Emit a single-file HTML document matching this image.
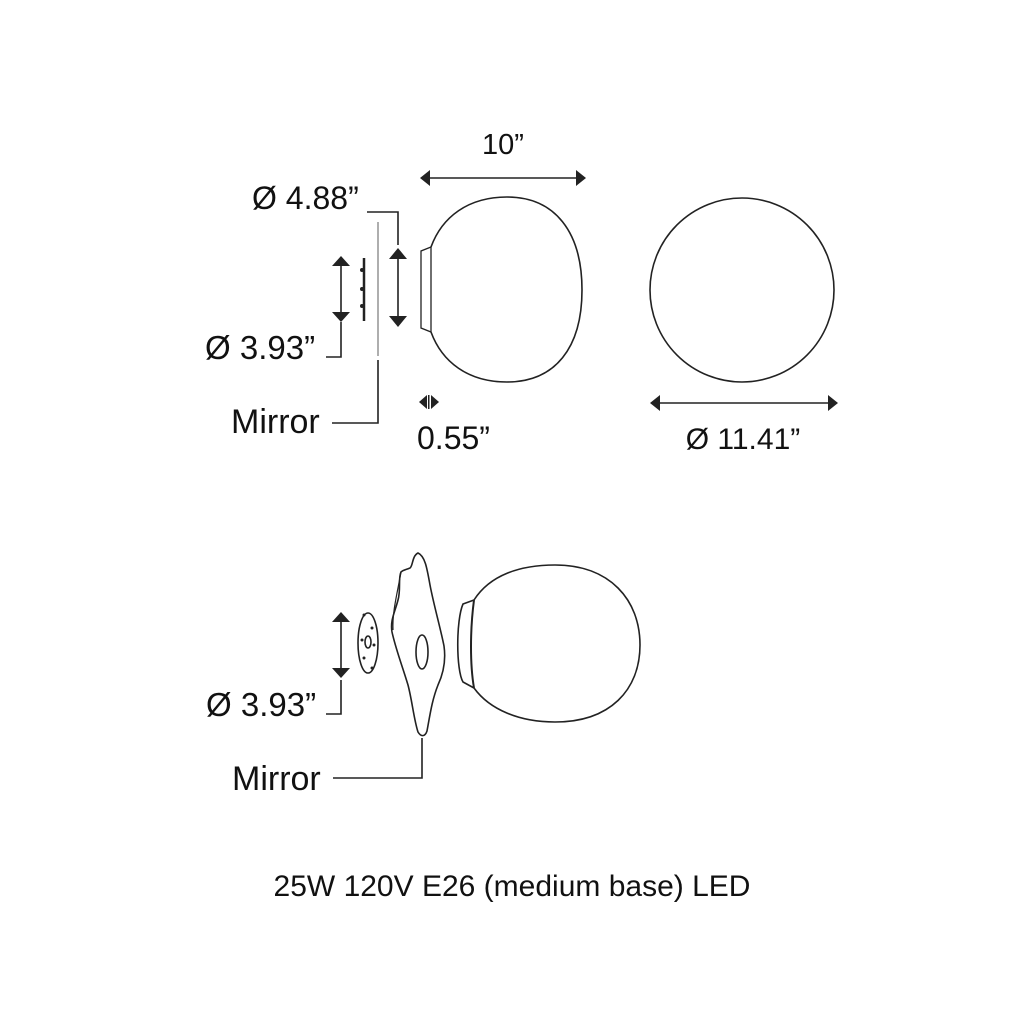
<!DOCTYPE html>
<html><head><meta charset="utf-8"><style>
html,body{margin:0;padding:0;background:#fff;}
svg{display:block}
text{font-family:"Liberation Sans",sans-serif;fill:#111}
</style></head><body>
<svg width="1024" height="1023" viewBox="0 0 1024 1023" xmlns="http://www.w3.org/2000/svg">
<g fill="none" stroke="#222" stroke-width="1.6">
<!-- top globe -->
<path d="M431 247 C 442 217 468 197 507 197 C 555 197 582 232 582 290 C 582 348 555 382 507 382 C 468 382 442 362 431 332"/>
<path d="M431 247 L421 251 L421 328 L431 332 Z" stroke-width="1.3"/>
<!-- right circle -->
<ellipse cx="742" cy="290" rx="92" ry="92"/>
<line x1="428" y1="178" x2="578" y2="178"/>
<line x1="656" y1="403" x2="832" y2="403"/>
<polyline points="367,212 398,212 398,245"/>
<line x1="398" y1="256" x2="398" y2="320"/>
<line x1="341" y1="262" x2="341" y2="316"/>
<polyline points="341,322 341,357 326,357"/>
<line x1="364" y1="258" x2="364" y2="321" stroke-width="2.5"/>
<line x1="378" y1="222" x2="378" y2="356" stroke="#999"/>
<polyline points="378,360 378,423 332,423"/>
<!-- bottom globe -->
<path d="M474 600 C 490 575 520 565 555 565 C 610 565 640 600 640 645 C 640 690 610 722 555 722 C 520 722 490 710 474 688"/>
<path d="M474 600 L463 604 C 456 620 456 670 463 682 L474 688" />
<path d="M474 600 C 470 630 470 665 474 688" stroke-width="2"/>
<!-- mirror shape -->
<path d="M418 553 C 412 556 413 566 410 568 C 405 570 403 570 401 572 C 398 578 401 590 398 600 C 395 612 390 620 392 632 C 396 650 402 665 408 685 C 412 700 414 720 418 732 C 421 737 425 737 427 731 C 430 715 432 700 438 685 C 444 672 446 660 444 646 C 440 626 434 606 430 585 C 427 568 425 556 418 553 Z"/>
<path d="M401 572 C 398 590 392 612 393 630" stroke-width="1.2"/>
<ellipse cx="422" cy="652" rx="6" ry="17"/>
<ellipse cx="368" cy="643" rx="10" ry="30"/>
<ellipse cx="368" cy="642" rx="3" ry="6"/>
<line x1="341" y1="617" x2="341" y2="672"/>
<polyline points="341,680 341,714 326,714"/>
<polyline points="422,738 422,778 333,778"/>
</g>
<g fill="#222">
<circle cx="364" cy="615" r="1.5"/><circle cx="372" cy="628" r="1.5"/><circle cx="364" cy="658" r="1.5"/><circle cx="372" cy="668" r="1.5"/><circle cx="362" cy="640" r="1.5"/><circle cx="374" cy="645" r="1.5"/>
<circle cx="362" cy="270" r="2"/><circle cx="362" cy="289" r="2"/><circle cx="362" cy="306" r="2"/>
<polygon points="420,178 430,170 430,186"/>
<polygon points="586,178 576,170 576,186"/>
<polygon points="650,403 660,395 660,411"/>
<polygon points="838,403 828,395 828,411"/>
<polygon points="398,248 389,259 407,259"/>
<polygon points="398,327 389,316 407,316"/>
<polygon points="341,256 332,266 350,266"/>
<polygon points="341,322 332,312 350,312"/>
<polygon points="341,612 332,622 350,622"/>
<polygon points="341,678 332,668 350,668"/>
<polygon points="419,402 427,395 427,409"/>
<polygon points="439,402 431,395 431,409"/>
<rect x="428" y="395" width="1.5" height="14"/>
</g>
<text x="503" y="154" font-size="29" text-anchor="middle">10”</text>
<text x="252" y="209" font-size="32">Ø 4.88”</text>
<text x="205" y="359" font-size="33">Ø 3.93”</text>
<text x="231" y="433" font-size="34">Mirror</text>
<text x="417" y="449" font-size="32">0.55”</text>
<text x="743" y="449" font-size="30" text-anchor="middle">Ø 11.41”</text>
<text x="206" y="716" font-size="33">Ø 3.93”</text>
<text x="232" y="790" font-size="34">Mirror</text>
<text x="512" y="896" font-size="30" text-anchor="middle">25W 120V E26 (medium base) LED</text>
</svg>
</body></html>
